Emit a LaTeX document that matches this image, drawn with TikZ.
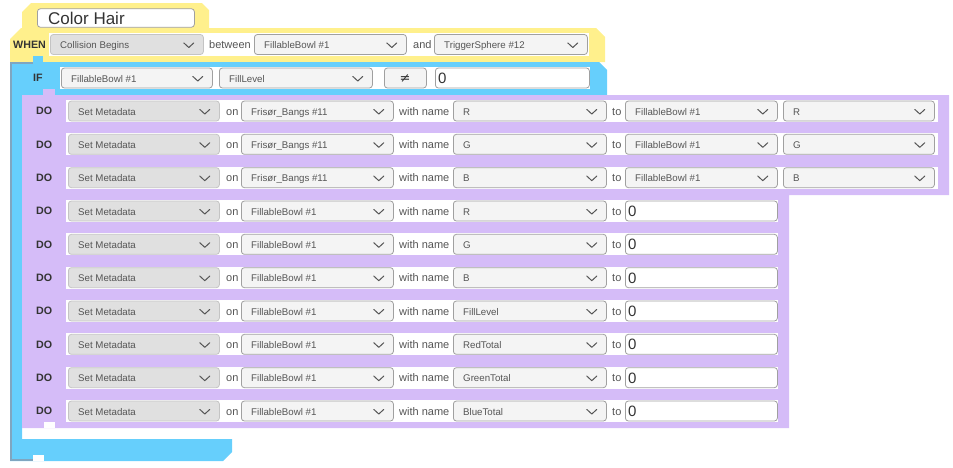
\documentclass[tikz,border=0pt]{standalone}
\usepackage{fontspec}
\setmainfont{Liberation Sans}
\newfontfamily\symfont{DejaVu Sans}
\usetikzlibrary{calc}
\definecolor{yel}{HTML}{FFF08C}
\definecolor{blu}{HTML}{66CFFC}
\definecolor{blued}{HTML}{7FA6C0}
\definecolor{pur}{HTML}{D5BCF8}
\definecolor{ddfill}{HTML}{F4F4F4}
\definecolor{ddgray}{HTML}{E0E0E0}
\definecolor{ddline}{HTML}{A0A0A0}
\definecolor{ddgline}{HTML}{C4C4C4}
\definecolor{txt}{HTML}{555555}
\definecolor{dark}{HTML}{333333}
\tikzset{
  ddbox/.style={draw=ddline, fill=ddfill, rounded corners=3pt, line width=0.8pt, minimum height=20pt, inner sep=0pt, anchor=west},
  ddgraybox/.style={ddbox, fill=ddgray, draw=ddgline},
  inbox/.style={ddbox, fill=white},
  ddtext/.style={font=\fontsize{9.7}{11}\selectfont, text=txt, inner sep=0pt, anchor=base west},
  lbl/.style={font=\fontsize{11}{13}\selectfont, text=txt, inner sep=0pt, anchor=base west},
  kw/.style={font=\bfseries\fontsize{10.7}{12}\selectfont, text=dark, inner sep=0pt, anchor=base west},
  valtext/.style={font=\fontsize{15}{17}\selectfont, text=dark, inner sep=0pt, anchor=base west},
  chev/.style={draw=txt, line width=1pt, line cap=round, line join=round},
}
\newcommand\mkdd[6]{%
  \node[#2, minimum width=#5] (#1) at (#3,#4) {};
  \node[ddtext] (#1-t) at ($(#1.west)+(10,4.2)$) {#6};
  \draw[chev] ($(#1.east)+(-20,-1.6)$) -- ++(5,4.6) -- ++(5,-4.6);
}
\newcommand\mkin[5]{%
  \node[inbox, minimum width=#4] (#1) at (#2,#3) {};
  \node[valtext] (#1-t) at ($(#1.west)+(3,5.5)$) {#5};
}
\begin{document}
\begin{tikzpicture}[x=1pt,y=-1pt]
\useasboundingbox (0,0) rectangle (953,467);
% yellow WHEN block
\fill[yel] (22,12) -- (31,3) -- (202,3) -- (209,10) -- (209,28) -- (596,28) -- (605,37) -- (605,62) -- (10,62) -- (10,39) -- (21,28) -- (22,28) -- cycle;
% blue IF block
\fill[blu] (10,62) -- (599,62) -- (607,70) -- (607,95) -- (22,95) -- (22,439) -- (232,439) -- (232,452) -- (223,461) -- (10,461) -- cycle;
\fill[blu] (33,56) rectangle (43,62);
\fill[white] (33,455) rectangle (44,461);
\draw[blued, line width=2.4pt] (33,63.2) -- (11.2,63.2) -- (11.2,459.8) -- (33,459.8);
% purple DO block
\fill[pur] (22,95) -- (949,95) -- (949,195) -- (789,195) -- (789,428) -- (22,428) -- cycle;
\fill[pur] (43,89) rectangle (55,95);
\fill[white] (44,422) rectangle (55,428);
% title
\node[draw=ddline, fill=white, rounded corners=3pt, line width=0.8pt, minimum width=157pt, minimum height=18.5pt, inner sep=0pt, anchor=west] (title) at (37,18) {};
\node[font=\fontsize{17}{19}\selectfont, text=dark, inner sep=0pt, anchor=base west] (title-t) at ($(title.west)+(11,6)$) {Color Hair};
% WHEN row
\fill[white] (49,33) rectangle (589,56);
\node[kw] (when) at (13,48.3) {WHEN};
\mkdd{ev}{ddgraybox}{50}{44.5}{153}{Collision Begins}
\node[lbl] (between) at (209,48.5) {between};
\mkdd{ea}{ddbox}{254}{44.5}{152}{FillableBowl \#1}
\node[lbl] (and) at (413,48.5) {and};
\mkdd{eb}{ddbox}{434}{44.5}{153}{TriggerSphere \#12}
% IF row
\fill[white] (60,67) rectangle (590,89);
\node[kw] (if) at (33,81.8) {IF};
\mkdd{ca}{ddbox}{61}{78}{151}{FillableBowl \#1}
\mkdd{cb}{ddbox}{219}{78}{153}{FillLevel}
\node[ddbox, minimum width=42pt] (op) at (384,78) {};
\node[font=\symfont\fontsize{13}{15}\selectfont, text=dark, inner sep=0pt] (op-t) at (405,78.5) {≠};
\mkin{cv}{435}{78}{154}{0}
% DO rows with two dropdowns
\foreach \i/\nm in {1/R,2/G,3/B} {
  \pgfmathsetmacro\yc{111+33.333*(\i-1)}
  \fill[white] (66,\yc-11) rectangle (938,\yc+11);
  \node[kw] (do\i) at (36,\yc+3.8) {DO};
  \mkdd{sm\i}{ddgraybox}{68}{\yc}{151}{Set Metadata}
  \node[lbl] (on\i) at (226,\yc+4) {on};
  \mkdd{ob\i}{ddbox}{241}{\yc}{152}{Frisør\_Bangs \#11}
  \node[lbl] (wn\i) at (399,\yc+4) {with name};
  \mkdd{nm\i}{ddbox}{453}{\yc}{153}{\nm}
  \node[lbl] (to\i) at (612,\yc+4) {to};
  \mkdd{src\i}{ddbox}{625}{\yc}{152}{FillableBowl \#1}
  \mkdd{key\i}{ddbox}{783}{\yc}{151}{\nm}
}
% DO rows with value 0
\foreach \i/\nm in {4/R,5/G,6/B,7/FillLevel,8/RedTotal,9/GreenTotal,10/BlueTotal} {
  \pgfmathsetmacro\yc{111+33.333*(\i-1)}
  \fill[white] (66,\yc-11) rectangle (778,\yc+11);
  \node[kw] (do\i) at (36,\yc+3.8) {DO};
  \mkdd{sm\i}{ddgraybox}{68}{\yc}{151}{Set Metadata}
  \node[lbl] (on\i) at (226,\yc+4) {on};
  \mkdd{ob\i}{ddbox}{241}{\yc}{152}{FillableBowl \#1}
  \node[lbl] (wn\i) at (399,\yc+4) {with name};
  \mkdd{nm\i}{ddbox}{453}{\yc}{153}{\nm}
  \node[lbl] (to\i) at (612,\yc+4) {to};
  \mkin{val\i}{625}{\yc}{152}{0}
}
\end{tikzpicture}
\end{document}
